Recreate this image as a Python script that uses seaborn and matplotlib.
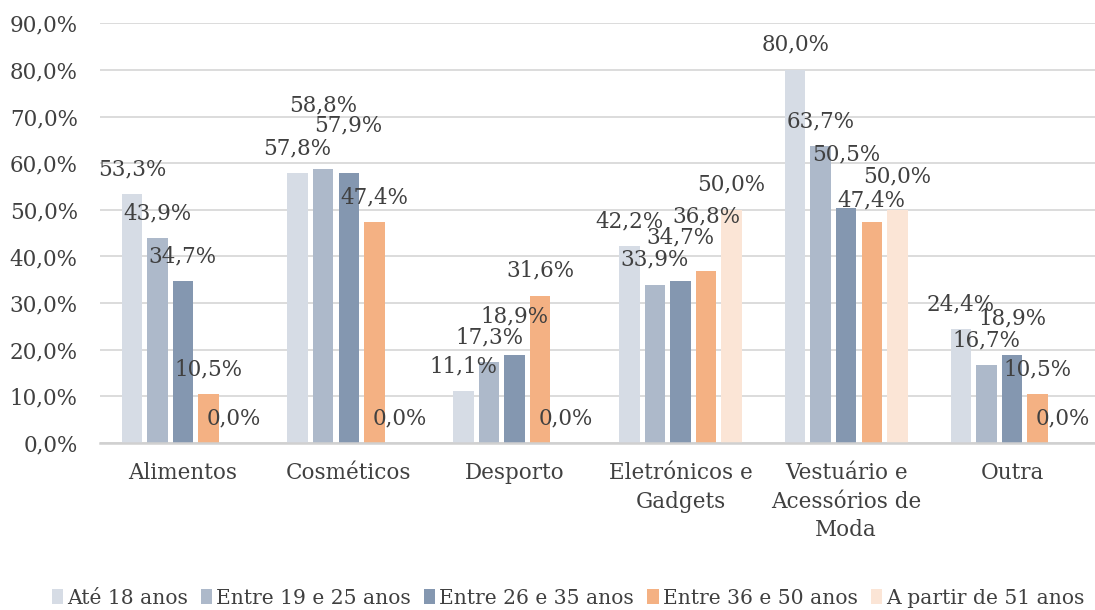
import matplotlib
matplotlib.use("Agg")
import matplotlib.pyplot as plt
import seaborn as sns
import pandas as pd
from matplotlib.patches import Patch

categories = ["Alimentos", "Cosméticos", "Desporto", "Eletrónicos e\nGadgets",
              "Vestuário e\nAcessórios de\nModa", "Outra"]
age_groups = ["Até 18 anos", "Entre 19 e 25 anos", "Entre 26 e 35 anos",
              "Entre 36 e 50 anos", "A partir de 51 anos"]
ate_18 = [53.3, 57.8, 11.1, 42.2, 80.0, 24.4]
entre_19_25 = [43.9, 58.8, 17.3, 33.9, 63.7, 16.7]
entre_26_35 = [34.7, 57.9, 18.9, 34.7, 50.5, 18.9]
entre_36_50 = [10.5, 47.4, 31.6, 36.8, 47.4, 10.5]
a_partir_51 = [0.0, 0.0, 0.0, 50.0, 50.0, 0.0]
y_ticks = [0, 10, 20, 30, 40, 50, 60, 70, 80, 90]

series = [ate_18, entre_19_25, entre_26_35, entre_36_50, a_partir_51]
colors = ["#D6DCE5", "#ADB9CA", "#8497B0", "#F4B183", "#FBE5D6"]
text_color = "#404040"

# extra label lift (pixels) per series / category to mimic manual label placement
label_lift = [
    [0, 0, 0, 0, 0, 0],
    [0, 38, 0, 0, 0, 0],
    [0, 23, 13, 19, 28, 11],
    [0, 0, 0, 30, -3, 0],
    [0, 0, 0, 0, 8, 0],
]

rows = []
for g, vals in zip(age_groups, series):
    for c, v in zip(categories, vals):
        rows.append({"Categoria": c, "Idade": g, "Valor": v})
df = pd.DataFrame(rows)

sns.set_style("white")
plt.rcParams["font.family"] = ["DejaVu Serif"]

FS = 15.5

fig = plt.figure(figsize=(10.95, 6.10), dpi=100)
ax = fig.add_axes([100 / 1095, 1 - 443 / 610, 995 / 1095, (443 - 23.3) / 610])

sns.barplot(data=df, x="Categoria", y="Valor", hue="Idade",
            order=categories, hue_order=age_groups, palette=colors,
            width=0.77, gap=0.2, ax=ax, legend=False, saturation=1,
            edgecolor="none")

ax.set_ylim(0, 90)
ax.set_xlim(-0.5, len(categories) - 0.5)
ax.set_yticks(y_ticks)
ax.set_yticklabels([f"{t:.1f}%".replace(".", ",") for t in y_ticks])
ax.grid(axis="y", color="#D9D9D9", linewidth=1.3)
ax.set_axisbelow(True)
for s in ["top", "right", "left"]:
    ax.spines[s].set_visible(False)
ax.spines["bottom"].set_color("#D0D0D0")
ax.spines["bottom"].set_linewidth(1.8)
ax.set_xlabel("")
ax.set_ylabel("")
ax.tick_params(axis="y", length=0, pad=16, labelsize=FS, labelcolor=text_color)
ax.tick_params(axis="x", length=0, pad=14, labelsize=FS, labelcolor=text_color)
for lab in ax.get_xticklabels():
    lab.set_linespacing(1.38)
    lab.set_va("top")

for si, cont in enumerate(ax.containers):
    for ci, bar in enumerate(cont):
        v = series[si][ci]
        x = bar.get_x() + bar.get_width() / 2
        off_px = 25 + label_lift[si][ci]
        ax.annotate(f"{v:.1f}%".replace(".", ","), xy=(x, bar.get_height()),
                    xytext=(0, off_px * 0.72), textcoords="offset points",
                    ha="center", va="center", fontsize=FS, color=text_color,
                    annotation_clip=False)

handles = [Patch(facecolor=c, edgecolor="none") for c in colors]
fig.legend(handles, age_groups, loc="center", bbox_to_anchor=(568 / 1095, 1 - 598 / 610),
           ncol=5, frameon=False, fontsize=14.6, labelcolor=text_color,
           handlelength=0.55, handleheight=0.75, handletextpad=0.2, columnspacing=0.65)

fig.savefig("out.png", dpi=100)
